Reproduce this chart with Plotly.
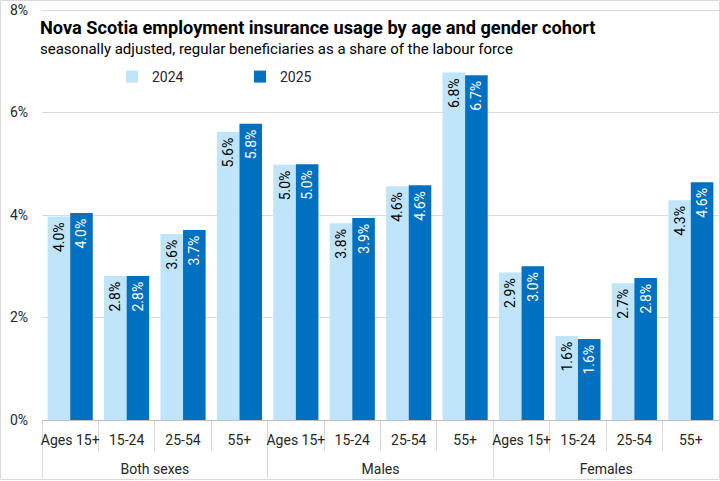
import plotly.graph_objects as go

groups = ["Both sexes"] * 4 + ["Males"] * 4 + ["Females"] * 4
ages = ["Ages 15+", "15-24", "25-54", "55+"] * 3
v2024 = [3.97, 2.81, 3.63, 5.62, 4.98, 3.84, 4.56, 6.78, 2.88, 1.64, 2.67, 4.29]
v2025 = [4.04, 2.81, 3.71, 5.78, 4.99, 3.94, 4.58, 6.73, 3.00, 1.58, 2.77, 4.64]
yticks = [0, 2, 4, 6, 8]
ytick_text = ["0%", "2%", "4%", "6%", "8%"]

# outer labels are pushed down one line to sit in the lower band
group_labels = ["<br>" + g for g in groups]

FONT = "Roboto"
W, H = 720, 481
ML, MR, MT, MB = 42, 1, 8, 61
pw = W - ML - MR
ph = H - MT - MB


def px_x(x):
    return (x - ML) / pw


def px_y(y):
    return 1 - (y - MT) / ph


fig = go.Figure()
fig.add_trace(go.Bar(
    name="2024", x=[group_labels, ages], y=v2024,
    marker=dict(color="#C0E4FA", line=dict(width=0)),
    texttemplate="%{y:.1f}%\u2009", textposition="inside", insidetextanchor="end",
    textangle=-90, constraintext="none",
    textfont=dict(family=FONT, size=14, color="#000000"),
))
fig.add_trace(go.Bar(
    name="2025", x=[group_labels, ages], y=v2025,
    marker=dict(color="#0070C0", line=dict(width=0)),
    texttemplate="%{y:.1f}%\u2009", textposition="inside", insidetextanchor="end",
    textangle=-90, constraintext="none",
    textfont=dict(family=FONT, size=14, color="#FFFFFF"),
))

fig.update_layout(
    width=W, height=H,
    margin=dict(l=ML, r=MR, t=MT, b=MB, autoexpand=False),
    paper_bgcolor="white", plot_bgcolor="white",
    barmode="group", bargap=0.2, bargroupgap=0,
    font=dict(family=FONT, size=13, color="#262626"),
    showlegend=True,
    legend=dict(orientation="h", x=px_x(112), y=px_y(61),
                xanchor="left", yanchor="top", bgcolor="rgba(0,0,0,0)",
                font=dict(family=FONT, size=14, color="#262626"),
                entrywidth=83, itemwidth=30, tracegroupgap=0),
    xaxis=dict(type="multicategory", showgrid=False,
               showline=True, linecolor="#BFBFBF", linewidth=1,
               ticks="outside", tickson="boundaries", ticklen=30,
               tickcolor="#D9D9D9", tickwidth=1, tickangle=0,
               ticklabelstandoff=7,
               showdividers=True, dividercolor="#D9D9D9", dividerwidth=1,
               tickfont=dict(family=FONT, size=14, color="#262626")),
    yaxis=dict(range=[0, 8.04], tickvals=yticks, ticktext=ytick_text,
               showgrid=True, gridcolor="#D9D9D9", gridwidth=1,
               zeroline=False, showline=False, ticks="",
               ticklabelstandoff=13,
               tickfont=dict(family=FONT, size=14, color="#262626")),
    annotations=[
        dict(text="<b>Nova Scotia employment insurance usage by age and gender cohort</b>",
             xref="paper", yref="paper", x=px_x(38), y=px_y(28),
             xanchor="left", yanchor="middle", showarrow=False,
             font=dict(family=FONT, size=18.2, color="#000000")),
        dict(text="seasonally adjusted, regular beneficiaries as a share of the labour force",
             xref="paper", yref="paper", x=px_x(38), y=px_y(49),
             xanchor="left", yanchor="middle", showarrow=False,
             font=dict(family=FONT, size=15.0, color="#000000")),
    ],
    shapes=[dict(type="rect", xref="paper", yref="paper",
                 x0=px_x(0.5), x1=px_x(719.5),
                 y0=px_y(479.5), y1=px_y(0.5),
                 line=dict(color="#D9D9D9", width=1), layer="below")],
)

fig.write_html(
    "out.html",
    config={"displayModeBar": False},
    post_script="document.body.style.margin='0px';",
)
